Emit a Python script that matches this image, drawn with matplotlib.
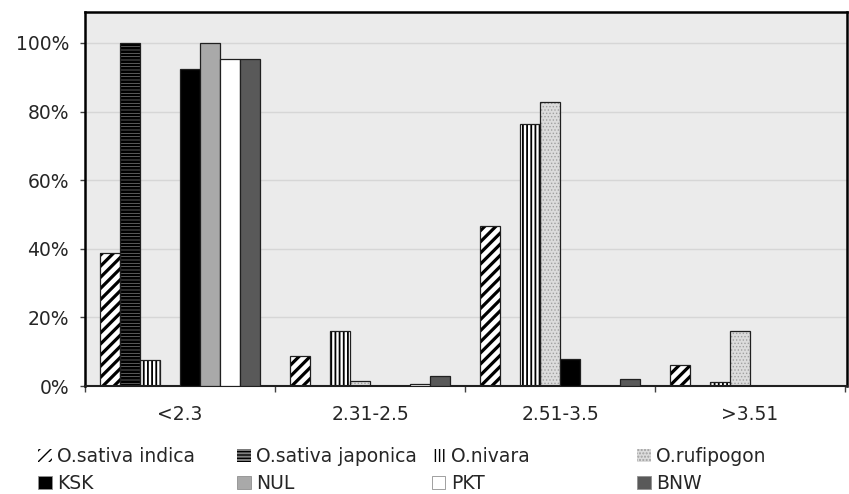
import numpy as np
import matplotlib
matplotlib.use("Agg")
import matplotlib.pyplot as plt
from matplotlib.patches import Patch

# data
categories = ["<2.3", "2.31-2.5", "2.51-3.5", ">3.51"]
series_names = ["O.sativa indica", "O.sativa japonica", "O.nivara", "O.rufipogon",
                "KSK", "NUL", "PKT", "BNW"]
indica    = [0.388, 0.087, 0.466, 0.061]
japonica  = [1.000, 0.000, 0.000, 0.000]
nivara    = [0.076, 0.160, 0.764, 0.012]
rufipogon = [0.000, 0.015, 0.828, 0.160]
ksk       = [0.924, 0.000, 0.079, 0.000]
nul       = [1.000, 0.000, 0.000, 0.000]
pkt       = [0.953, 0.007, 0.000, 0.000]
bnw       = [0.953, 0.029, 0.020, 0.000]
yticks = [0, 0.2, 0.4, 0.6, 0.8, 1.0]
ytick_labels = ["0%", "20%", "40%", "60%", "80%", "100%"]

values = [indica, japonica, nivara, rufipogon, ksk, nul, pkt, bnw]

# style per series: facecolor, hatch, hatch colour, hatch linewidth
styles = [
    ("white",   "///",   "black",   2.3),
    ("#808080", "-----", "black",   1.9),
    ("white",   "||||",  "black",   1.3),
    ("#dcdcdc", ".....", "#a0a0a0", 0.6),
    ("black",   None,    None,      1.0),
    ("#a9a9a9", None,    None,      1.0),
    ("white",   None,    None,      1.0),
    ("#595959", None,    None,      1.0),
]

txt = "#262626"
fs = 13.5
plt.rcParams["font.family"] = ["DejaVu Sans"]

fig = plt.figure(figsize=(8.49, 4.94), dpi=100)
ax = fig.add_axes([85 / 849, 1 - 386 / 494, 762 / 849, 374 / 494])
ax.set_facecolor("#ebebeb")

x = np.arange(len(categories))
width = 20 / 190
handles = []
for i, (vals, (fc, hatch, hc, hlw)) in enumerate(zip(values, styles)):
    offs = (-80 + 20 * i + 10) / 190
    if hatch:
        with plt.rc_context({"hatch.linewidth": hlw, "hatch.color": hc}):
            ax.bar(x + offs, vals, width, color=fc, hatch=hatch,
                   edgecolor=hc, linewidth=0, zorder=2)
            handles.append(Patch(facecolor=fc, hatch=hatch, edgecolor=hc,
                                 linewidth=0, label=series_names[i]))
    else:
        handles.append(Patch(facecolor=fc, edgecolor="#909090",
                             linewidth=0.6, label=series_names[i]))
    ax.bar(x + offs, vals, width, facecolor="none" if hatch else fc,
           edgecolor="#202020", linewidth=0.9, zorder=3)

ax.set_xlim(-0.5, 3.5 + 2 / 190)
ax.set_ylim(0, 374 / 343)
ax.set_yticks(yticks)
ax.set_yticklabels(ytick_labels, fontsize=fs, color=txt)
ax.yaxis.grid(True, color="#d6d6d6", linewidth=1, zorder=0)
ax.set_axisbelow(True)

# group boundaries as ticks, labels at centres
ax.set_xticks(np.arange(-0.5, 4.0, 1.0))
ax.set_xticklabels([])
ax.set_xticks(x, minor=True)
ax.set_xticklabels(categories, minor=True, fontsize=fs, color=txt)
ax.tick_params(axis="x", which="major", length=4, width=1, color="#404040")
ax.tick_params(axis="x", which="minor", length=0, pad=14)
ax.tick_params(axis="y", length=3.5, width=1, color="#404040", pad=8)

for side in ["top", "right", "left"]:
    ax.spines[side].set_linewidth(1.8)
    ax.spines[side].set_color("black")
ax.spines["bottom"].set_linewidth(1.5)
ax.spines["bottom"].set_color("#202020")

# legend: four columns of two entries each
col_x = [38, 237, 432, 637]
for c in range(4):
    fig.legend(handles=[handles[c], handles[c + 4]], loc="upper left",
               bbox_to_anchor=(col_x[c] / 849, 1 - 447 / 494),
               frameon=False, fontsize=fs, handlelength=0.72,
               handleheight=0.72, handletextpad=0.3, labelspacing=0.42,
               borderaxespad=0, borderpad=0, labelcolor=txt)

fig.savefig("out.png", dpi=100)
